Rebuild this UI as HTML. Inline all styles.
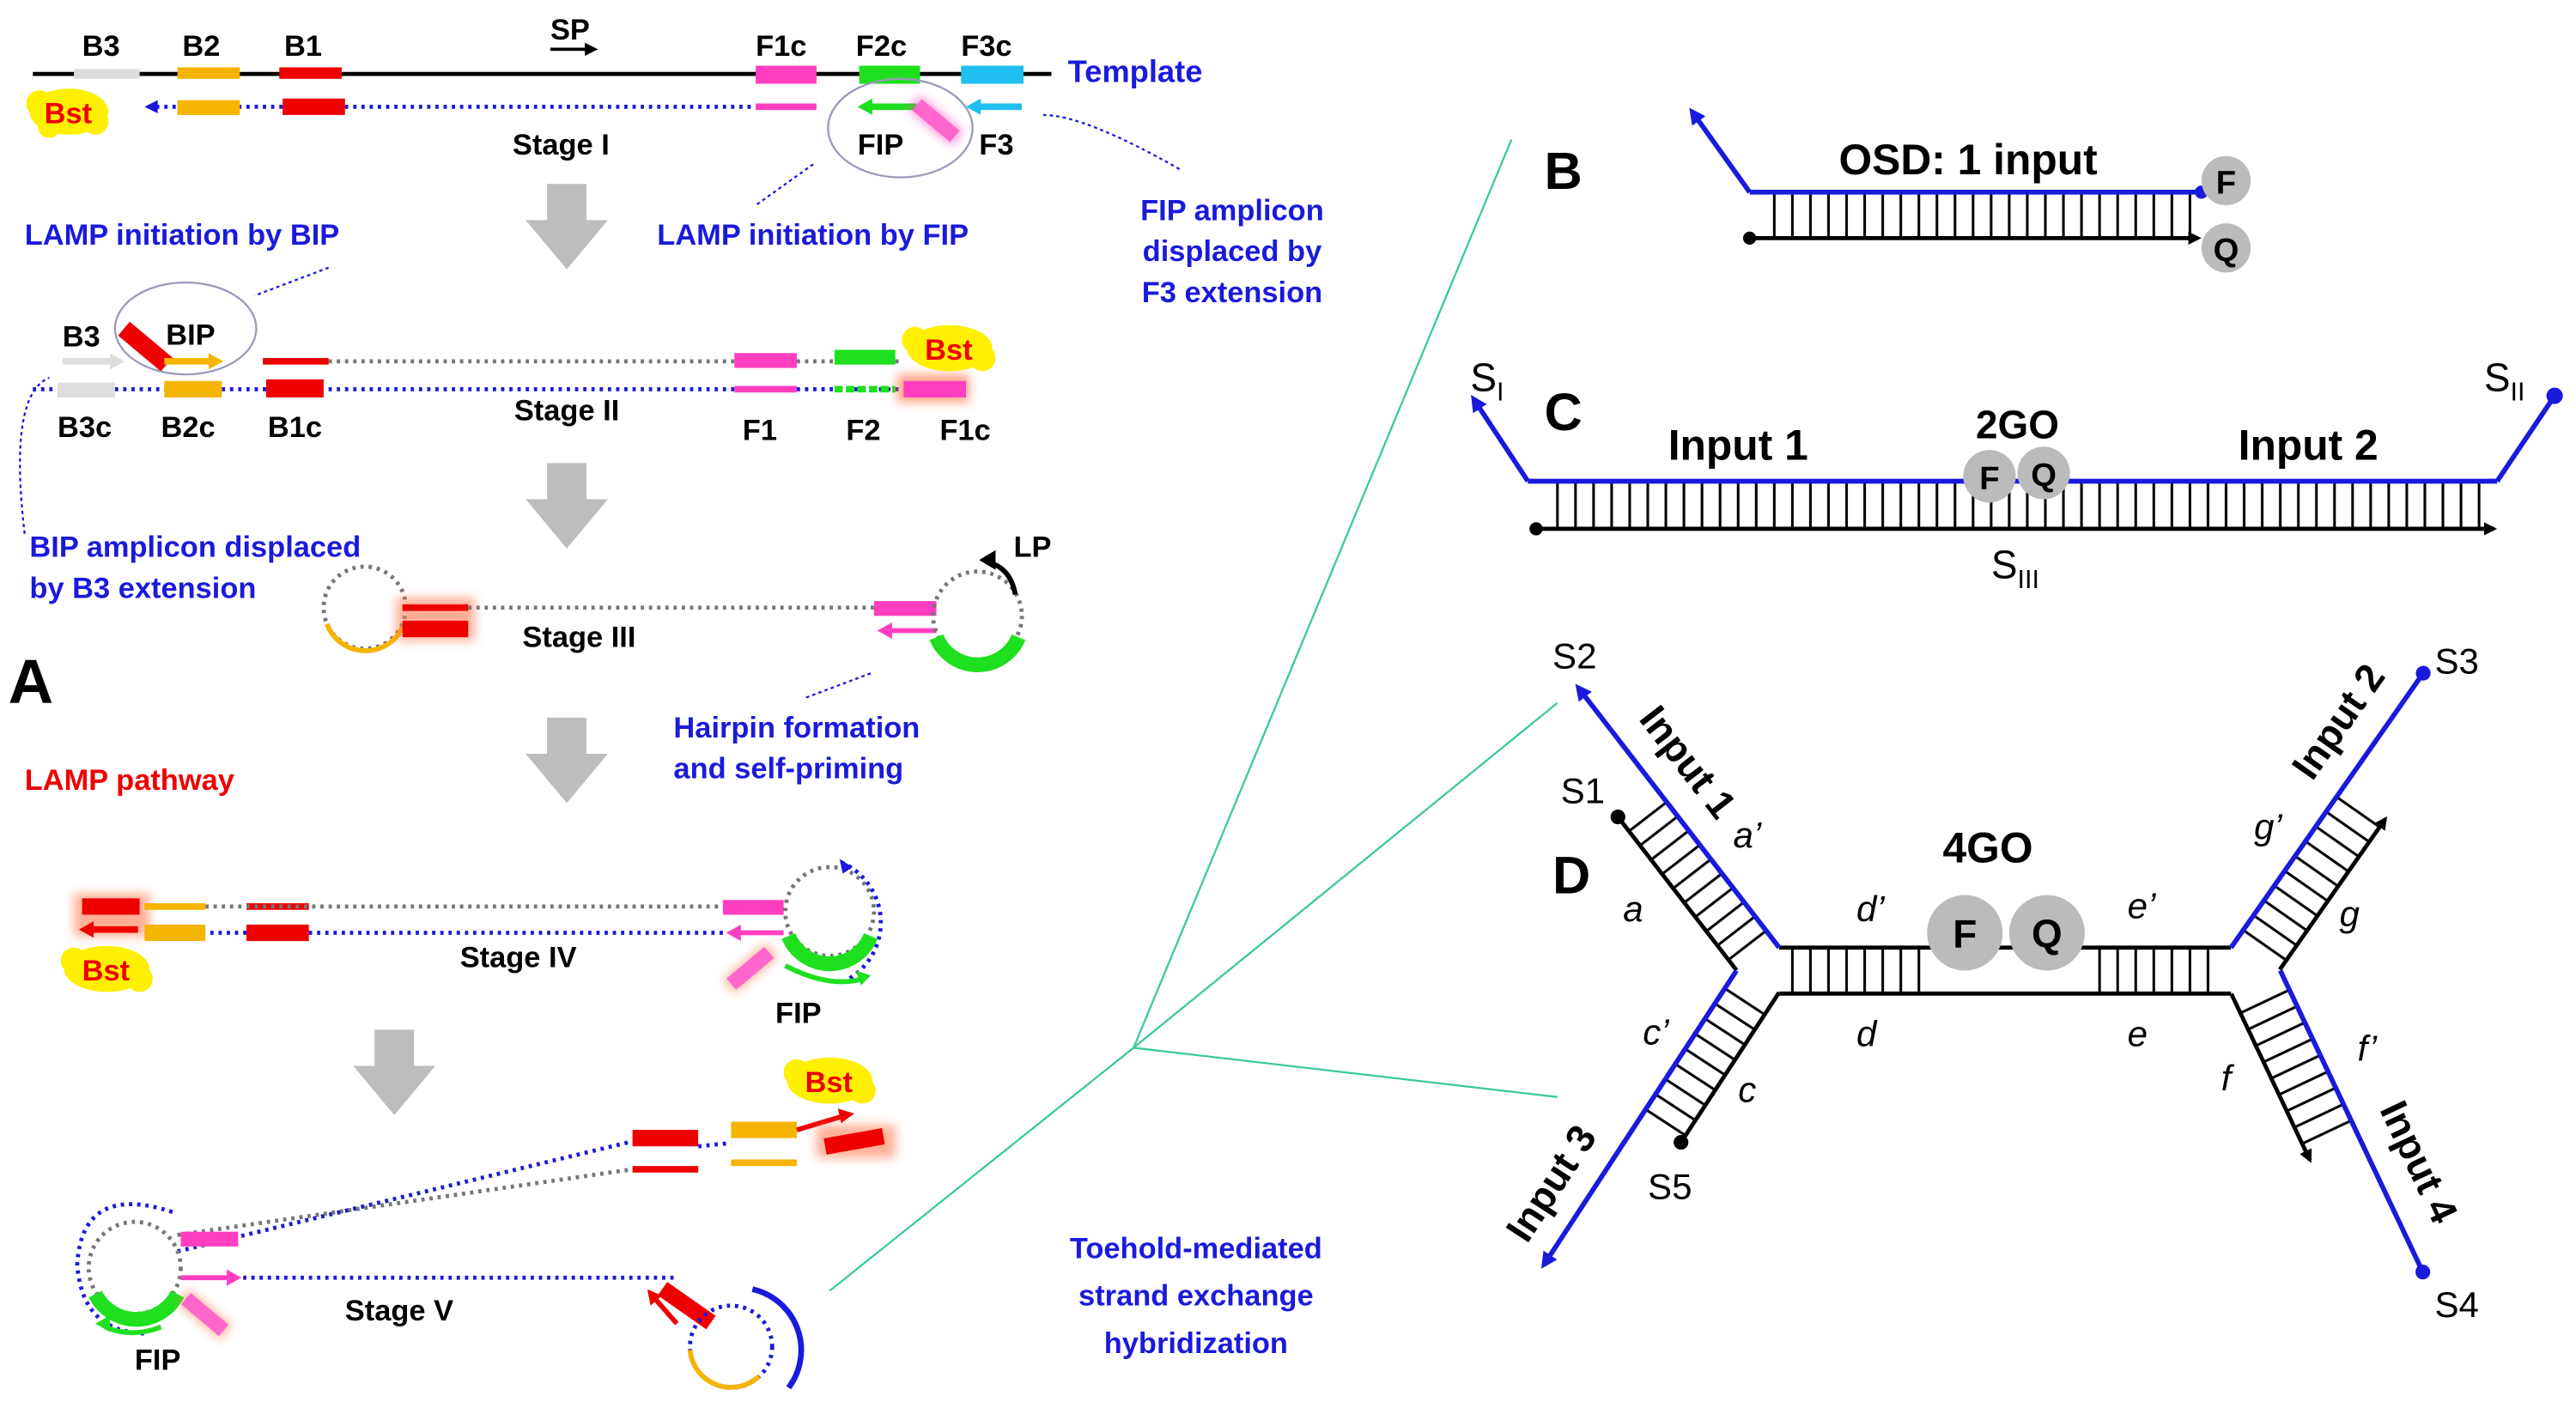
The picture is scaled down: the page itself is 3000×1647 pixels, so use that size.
<!DOCTYPE html>
<html><head><meta charset="utf-8"><style>
html,body{margin:0;padding:0;background:#fff;}
svg{display:block;}
text{font-family:"Liberation Sans",Arial,sans-serif;font-weight:bold;}
.n{font-weight:normal;}
</style></head><body>
<svg width="3000" height="1647" viewBox="0 0 1568 861" preserveAspectRatio="none" xmlns="http://www.w3.org/2000/svg">
<defs>
<pattern id="rung" width="11" height="10" patternUnits="userSpaceOnUse"><line x1="2" y1="0" x2="2" y2="10" stroke="#000" stroke-width="1.6"/></pattern>
<marker id="ab" markerWidth="8" markerHeight="8" refX="6" refY="4" orient="auto" markerUnits="userSpaceOnUse"><path d="M0,0 L8,4 L0,8 z" fill="#000"/></marker>
<marker id="abl" markerWidth="10" markerHeight="10" refX="7" refY="5" orient="auto" markerUnits="userSpaceOnUse"><path d="M0,0 L10,5 L0,10 z" fill="#1a1adb"/></marker>
<filter id="glow" x="-50%" y="-100%" width="200%" height="300%"><feGaussianBlur stdDeviation="3"/></filter>
</defs>
<rect width="1568" height="861" fill="#fff"/>

<!-- ===== Panel A ===== -->
<g font-size="18">
<text x="50" y="34">B3</text><text x="111" y="34">B2</text><text x="173" y="34">B1</text>
<text x="335" y="24">SP</text><line x1="335" y1="30" x2="362" y2="30" stroke="#000" stroke-width="2" marker-end="url(#ab)"/>
<text x="460" y="34">F1c</text><text x="521" y="34">F2c</text><text x="585" y="34">F3c</text>
</g>
<text x="650" y="50" font-size="19" fill="#1a1adb">Template</text>
<line x1="20" y1="45" x2="640" y2="45" stroke="#000" stroke-width="2.5"/>
<rect x="45" y="42" width="40" height="6" fill="#ddd"/>
<rect x="108" y="41" width="38" height="7" fill="#f5b400"/>
<rect x="170" y="41" width="38" height="7" fill="#e00"/>
<rect x="460" y="40" width="37" height="11" fill="#ff3fc0"/>
<rect x="523" y="40" width="37" height="11" fill="#1ee01e"/>
<rect x="585" y="40" width="38" height="11" fill="#1fbfef"/>
<line x1="90" y1="65" x2="460" y2="65" stroke="#1a1adb" stroke-width="2.5" stroke-dasharray="2,3"/>
<path d="M88,65 l8,-4 v8z" fill="#1a1adb"/>
<rect x="108" y="61" width="38" height="9" fill="#f5b400"/>
<rect x="172" y="60" width="38" height="10" fill="#e00"/>
<rect x="460" y="63" width="37" height="4" fill="#ff3fc0"/>
<line x1="558" y1="65" x2="528" y2="65" stroke="#1ee01e" stroke-width="4"/><path d="M522,65 l9,-5 v10z" fill="#1ee01e"/>
<rect x="553" y="68" width="34" height="11" fill="#ff3fc0" transform="rotate(40 570 73)" filter="url(#glow)" opacity=".6"/>
<rect x="555" y="69" width="30" height="9" fill="#ff66cc" transform="rotate(40 570 73)"/>
<line x1="622" y1="65" x2="594" y2="65" stroke="#1fbfef" stroke-width="4"/><path d="M588,65 l9,-5 v10z" fill="#1fbfef"/>
<ellipse cx="548" cy="78" rx="44" ry="30" fill="none" stroke="#9a9ab8" stroke-width="1.2"/>
<text x="522" y="94" font-size="18">FIP</text><text x="596" y="94" font-size="18">F3</text>
<text x="312" y="94" font-size="18">Stage I</text>
<ellipse cx="42" cy="68" rx="24" ry="14" fill="#ffef00"/><circle cx="24" cy="63" r="8" fill="#ffef00"/><circle cx="58" cy="74" r="8" fill="#ffef00"/><circle cx="30" cy="77" r="7" fill="#ffef00"/>
<text x="27" y="75" font-size="18" fill="#e00">Bst</text>

<g fill="#bdbdbd">
<path d="M333,112 h24 v22 h13 l-25,30 l-25,-30 h13z"/>
<path d="M333,282 h24 v22 h13 l-25,30 l-25,-30 h13z"/>
<path d="M333,437 h24 v22 h13 l-25,30 l-25,-30 h13z"/>
<path d="M228,627 h24 v22 h13 l-25,30 l-25,-30 h13z"/>
</g>

<g font-size="18" fill="#1a1adb">
<text x="15" y="149">LAMP initiation by BIP</text>
<text x="400" y="149">LAMP initiation by FIP</text>
<text x="750" y="134" text-anchor="middle">FIP amplicon</text>
<text x="750" y="159" text-anchor="middle">displaced by</text>
<text x="750" y="184" text-anchor="middle">F3 extension</text>
<text x="18" y="339">BIP amplicon displaced</text>
<text x="18" y="364">by B3 extension</text>
<text x="410" y="449">Hairpin formation</text>
<text x="410" y="474">and self-priming</text>
<text x="728" y="766" text-anchor="middle">Toehold-mediated</text>
<text x="728" y="795" text-anchor="middle">strand exchange</text>
<text x="728" y="824" text-anchor="middle">hybridization</text>
</g>
<text x="15" y="481" font-size="18" fill="#e00">LAMP pathway</text>
<text x="5" y="428" font-size="38">A</text>
<g stroke="#1a1adb" stroke-width="1.2" stroke-dasharray="2,2" fill="none">
<path d="M718,103 Q660,70 635,70"/><path d="M495,100 L460,125"/><path d="M200,163 L155,180"/>
<path d="M15,325 Q5,240 30,230"/><path d="M530,410 L490,425"/>
</g>

<!-- Stage II -->
<line x1="160" y1="220" x2="550" y2="220" stroke="#777" stroke-width="2.5" stroke-dasharray="2,3"/>
<line x1="20" y1="237" x2="550" y2="237" stroke="#1a1adb" stroke-width="2.5" stroke-dasharray="2,3"/>
<text x="38" y="211" font-size="18">B3</text>
<line x1="38" y1="220" x2="70" y2="220" stroke="#ddd" stroke-width="4"/><path d="M76,220 l-9,-5 v10z" fill="#ddd"/>
<rect x="72" y="205" width="34" height="11" fill="#e00" transform="rotate(40 88 210)"/>
<line x1="100" y1="220" x2="128" y2="220" stroke="#f5b400" stroke-width="4"/><path d="M136,220 l-9,-5 v10z" fill="#f5b400"/>
<text x="101" y="210" font-size="18">BIP</text>
<ellipse cx="113" cy="200" rx="43" ry="28" fill="none" stroke="#9a9ab8" stroke-width="1.2"/>
<rect x="160" y="218" width="40" height="4" fill="#e00"/>
<rect x="447" y="215" width="38" height="9" fill="#ff3fc0"/>
<rect x="508" y="213" width="37" height="9" fill="#1ee01e"/>
<rect x="35" y="233" width="35" height="9" fill="#ddd"/>
<rect x="100" y="232" width="35" height="10" fill="#f5b400"/>
<rect x="162" y="231" width="35" height="11" fill="#e00"/>
<rect x="447" y="235" width="38" height="4" fill="#ff3fc0"/>
<line x1="508" y1="237" x2="545" y2="237" stroke="#1ee01e" stroke-width="4" stroke-dasharray="5,2"/>
<rect x="546" y="228" width="44" height="17" fill="#ff7a50" filter="url(#glow)" opacity=".7"/>
<rect x="550" y="232" width="38" height="10" fill="#ff3fc0"/>
<ellipse cx="578" cy="212" rx="26" ry="14" fill="#ffef00"/><circle cx="557" cy="207" r="8" fill="#ffef00"/><circle cx="598" cy="218" r="8" fill="#ffef00"/>
<text x="563" y="219" font-size="18" fill="#e00">Bst</text>
<g font-size="18"><text x="35" y="266">B3c</text><text x="98" y="266">B2c</text><text x="163" y="266">B1c</text>
<text x="313" y="256">Stage II</text><text x="452" y="268">F1</text><text x="515" y="268">F2</text><text x="572" y="268">F1c</text></g>

<!-- Stage III -->
<circle cx="222" cy="370" r="25" fill="none" stroke="#777" stroke-width="2.5" stroke-dasharray="2,3"/>
<path d="M199,380 A25,25 0 0 0 245,382" fill="none" stroke="#f5b400" stroke-width="3"/>
<rect x="241" y="364" width="48" height="26" fill="#ff7a50" filter="url(#glow)" opacity=".6"/>
<rect x="245" y="368" width="40" height="4" fill="#e00"/>
<rect x="245" y="378" width="40" height="10" fill="#e00"/>
<line x1="285" y1="370" x2="532" y2="370" stroke="#777" stroke-width="2.5" stroke-dasharray="2,3"/>
<rect x="532" y="366" width="38" height="9" fill="#ff3fc0"/>
<line x1="570" y1="384" x2="542" y2="384" stroke="#ff3fc0" stroke-width="3"/><path d="M534,384 l9,-5 v10z" fill="#ff3fc0"/>
<circle cx="595" cy="375" r="27" fill="none" stroke="#777" stroke-width="2.5" stroke-dasharray="2,3"/>
<path d="M570,388 A27,27 0 0 0 620,388" fill="none" stroke="#1ee01e" stroke-width="9"/>
<path d="M618,362 Q615,345 600,342" fill="none" stroke="#000" stroke-width="3"/><path d="M596,341 l10,-6 v12z" fill="#000"/>
<text x="617" y="339" font-size="18">LP</text>
<text x="318" y="394" font-size="18">Stage III</text>

<!-- Stage IV -->
<rect x="45" y="544" width="46" height="26" fill="#ff7a50" filter="url(#glow)" opacity=".6"/>
<rect x="50" y="547" width="35" height="10" fill="#e00"/>
<rect x="88" y="550" width="37" height="4" fill="#f5b400"/>
<rect x="150" y="550" width="38" height="4" fill="#e00"/>
<line x1="125" y1="552" x2="440" y2="552" stroke="#777" stroke-width="2.5" stroke-dasharray="2,3"/>
<line x1="88" y1="568" x2="440" y2="568" stroke="#1a1adb" stroke-width="2.5" stroke-dasharray="2,3"/>
<line x1="84" y1="566" x2="56" y2="566" stroke="#e00" stroke-width="4"/><path d="M48,566 l9,-5 v10z" fill="#e00"/>
<rect x="88" y="563" width="37" height="10" fill="#f5b400"/>
<rect x="150" y="563" width="38" height="10" fill="#e00"/>
<ellipse cx="65" cy="590" rx="26" ry="14" fill="#ffef00"/><circle cx="45" cy="585" r="8" fill="#ffef00"/><circle cx="85" cy="596" r="8" fill="#ffef00"/>
<text x="50" y="597" font-size="18" fill="#e00">Bst</text>
<rect x="440" y="548" width="37" height="9" fill="#ff3fc0"/>
<line x1="477" y1="568" x2="450" y2="568" stroke="#ff3fc0" stroke-width="3"/><path d="M442,568 l9,-5 v10z" fill="#ff3fc0"/>
<circle cx="505" cy="555" r="27" fill="none" stroke="#777" stroke-width="2.5" stroke-dasharray="2,3"/>
<path d="M512,525 A40,40 0 0 1 515,597" fill="none" stroke="#1a1adb" stroke-width="2.5" stroke-dasharray="2,3"/>
<path d="M519,528 l-8,-5 l2,9z" fill="#1a1adb"/>
<path d="M480,570 A27,27 0 0 0 530,570" fill="none" stroke="#1ee01e" stroke-width="9"/>
<path d="M478,588 Q505,602 525,596" fill="none" stroke="#1ee01e" stroke-width="3"/><path d="M530,594 l-9,-3 l3,9z" fill="#1ee01e"/>
<rect x="440" y="584" width="34" height="11" fill="#ff7a50" filter="url(#glow)" opacity=".6" transform="rotate(-40 457 590)"/>
<rect x="442" y="585" width="30" height="9" fill="#ff66cc" transform="rotate(-40 457 590)"/>
<text x="472" y="623" font-size="18">FIP</text>
<text x="280" y="589" font-size="18">Stage IV</text>

<!-- Stage V -->
<line x1="108" y1="762" x2="385" y2="695" stroke="#1a1adb" stroke-width="2.5" stroke-dasharray="2,3"/>
<line x1="108" y1="752" x2="385" y2="712" stroke="#777" stroke-width="2.5" stroke-dasharray="2,3"/>
<rect x="385" y="688" width="40" height="10" fill="#e00"/>
<rect x="385" y="710" width="40" height="4" fill="#e00"/>
<line x1="425" y1="698" x2="445" y2="696" stroke="#1a1adb" stroke-width="2.5" stroke-dasharray="2,3"/>
<rect x="445" y="683" width="40" height="10" fill="#f5b400"/>
<rect x="445" y="706" width="40" height="4" fill="#f5b400"/>
<line x1="485" y1="688" x2="512" y2="680" stroke="#e00" stroke-width="3"/><path d="M520,678 l-10,-3 l2,9z" fill="#e00"/>
<rect x="497" y="685" width="48" height="20" fill="#ff7a50" filter="url(#glow)" opacity=".6"/>
<rect x="502" y="690" width="36" height="10" fill="#e00" transform="rotate(-10 520 695)"/>
<ellipse cx="505" cy="658" rx="26" ry="14" fill="#ffef00"/><circle cx="485" cy="653" r="8" fill="#ffef00"/><circle cx="525" cy="664" r="8" fill="#ffef00"/>
<text x="490" y="665" font-size="18" fill="#e00">Bst</text>
<circle cx="82" cy="772" r="28" fill="none" stroke="#777" stroke-width="2.5" stroke-dasharray="2,3"/>
<path d="M105,738 Q50,720 47,770 Q50,812 90,812" fill="none" stroke="#1a1adb" stroke-width="2.5" stroke-dasharray="2,3"/>
<path d="M58,788 A28,28 0 0 0 108,788" fill="none" stroke="#1ee01e" stroke-width="9"/>
<path d="M98,808 Q80,815 64,808" fill="none" stroke="#1ee01e" stroke-width="3"/><path d="M58,806 l9,-5 l0,10z" fill="#1ee01e"/>
<rect x="110" y="750" width="35" height="9" fill="#ff3fc0"/>
<line x1="110" y1="778" x2="140" y2="778" stroke="#ff3fc0" stroke-width="3"/><path d="M147,778 l-9,-5 v10z" fill="#ff3fc0"/>
<line x1="148" y1="778" x2="410" y2="778" stroke="#1a1adb" stroke-width="2.5" stroke-dasharray="2,3"/>
<rect x="108" y="795" width="34" height="11" fill="#ff7a50" filter="url(#glow)" opacity=".6" transform="rotate(40 125 800)"/>
<rect x="110" y="796" width="30" height="9" fill="#ff66cc" transform="rotate(40 125 800)"/>
<text x="82" y="834" font-size="18">FIP</text>
<text x="210" y="804" font-size="18">Stage V</text>
<rect x="400" y="790" width="36" height="10" fill="#e00" transform="rotate(35 418 795)"/>
<line x1="412" y1="806" x2="398" y2="790" stroke="#e00" stroke-width="3"/><path d="M394,785 l2,10 l7,-6z" fill="#e00"/>
<circle cx="445" cy="820" r="25" fill="none" stroke="#1a1adb" stroke-width="2.5" stroke-dasharray="2,3"/>
<path d="M420,822 A25,25 0 0 0 462,838" fill="none" stroke="#f5b400" stroke-width="3"/>
<path d="M458,785 A38,38 0 0 1 480,845" fill="none" stroke="#1a1adb" stroke-width="3.5"/>

<g stroke="#3cc8a0" stroke-width="1.2" fill="none">
<line x1="690" y1="638" x2="920" y2="85"/>
<line x1="690" y1="638" x2="948" y2="428"/>
<line x1="690" y1="638" x2="948" y2="668"/>
<line x1="690" y1="638" x2="505" y2="786"/>
</g>

<!-- ===== Panel B ===== -->
<text x="940" y="115" font-size="32">B</text>
<rect x="1072" y="117" width="265" height="28" fill="url(#rung)"/>
<path d="M1065,117 L1030,68" stroke="#1a1adb" stroke-width="3" fill="none" marker-end="url(#abl)"/>
<line x1="1065" y1="117" x2="1340" y2="117" stroke="#1a1adb" stroke-width="3"/>
<circle cx="1340" cy="117" r="4" fill="#1a1adb"/>
<line x1="1065" y1="145" x2="1338" y2="145" stroke="#000" stroke-width="2.5" marker-end="url(#ab)"/>
<circle cx="1065" cy="145" r="4" fill="#000"/>
<text x="1198" y="106" font-size="26" text-anchor="middle">OSD: 1 input</text>
<circle cx="1355" cy="110" r="15" fill="#bbb"/><text x="1355" y="118" font-size="20" text-anchor="middle">F</text>
<circle cx="1355" cy="151" r="15" fill="#bbb"/><text x="1355" y="159" font-size="20" text-anchor="middle">Q</text>

<!-- ===== Panel C ===== -->
<text x="940" y="262" font-size="32">C</text>
<rect x="940" y="293" width="575" height="29" fill="url(#rung)"/>
<path d="M930,293 L897,243" stroke="#1a1adb" stroke-width="3" fill="none" marker-end="url(#abl)"/>
<line x1="930" y1="293" x2="1520" y2="293" stroke="#1a1adb" stroke-width="3"/>
<line x1="1520" y1="293" x2="1555" y2="241" stroke="#1a1adb" stroke-width="3"/><circle cx="1555" cy="241" r="5" fill="#1a1adb"/>
<line x1="935" y1="322" x2="1518" y2="322" stroke="#000" stroke-width="2.5" marker-end="url(#ab)"/><circle cx="935" cy="322" r="4" fill="#000"/>
<text x="895" y="238" font-size="24" class="n">S<tspan font-size="16" dy="6">I</tspan></text>
<text x="1512" y="238" font-size="24" class="n">S<tspan font-size="16" dy="6">II</tspan></text>
<text x="1212" y="352" font-size="24" class="n">S<tspan font-size="16" dy="6">III</tspan></text>
<text x="1058" y="280" font-size="26" text-anchor="middle">Input 1</text>
<text x="1228" y="267" font-size="24" text-anchor="middle">2GO</text>
<text x="1405" y="280" font-size="26" text-anchor="middle">Input 2</text>
<circle cx="1211" cy="290" r="16" fill="#bbb"/><text x="1211" y="298" font-size="20" text-anchor="middle">F</text>
<circle cx="1244" cy="288" r="16" fill="#bbb"/><text x="1244" y="296" font-size="20" text-anchor="middle">Q</text>

<!-- ===== Panel D ===== -->
<text x="945" y="544" font-size="32">D</text>
<rect x="1088" y="577" width="82" height="28" fill="url(#rung)"/>
<rect x="1270" y="577" width="82" height="28" fill="url(#rung)"/>
<line x1="1083" y1="577" x2="1358" y2="577" stroke="#000" stroke-width="2.5"/>
<line x1="1083" y1="605" x2="1358" y2="605" stroke="#000" stroke-width="2.5"/>
<circle cx="1196" cy="568" r="23" fill="#bbb"/><text x="1196" y="577" font-size="24" text-anchor="middle">F</text>
<circle cx="1246" cy="568" r="23" fill="#bbb"/><text x="1246" y="577" font-size="24" text-anchor="middle">Q</text>
<text x="1210" y="525" font-size="26" text-anchor="middle">4GO</text>
<g font-size="22" font-style="italic">
<text x="1130" y="561" class="n">d’</text><text x="1130" y="637" class="n">d</text>
<text x="1295" y="559" class="n">e’</text><text x="1295" y="637" class="n">e</text>
<text x="1055" y="516" class="n">a’</text><text x="988" y="561" class="n">a</text>
<text x="1000" y="636" class="n">c’</text><text x="1058" y="671" class="n">c</text>
<text x="1372" y="511" class="n">g’</text><text x="1424" y="564" class="n">g</text>
<text x="1435" y="646" class="n">f’</text><text x="1352" y="664" class="n">f</text>
</g>
<g transform="translate(1083,577) rotate(-127.7)">
<rect x="10" y="-29" width="110" height="29" fill="url(#rung)"/>
<line x1="0" y1="0" x2="200" y2="0" stroke="#1a1adb" stroke-width="3" marker-end="url(#abl)"/>
<line x1="5" y1="-29" x2="123" y2="-29" stroke="#000" stroke-width="2.5"/><circle cx="123" cy="-29" r="4.5" fill="#000"/>
</g>
<g transform="translate(1358,577) rotate(-55)">
<rect x="10" y="0" width="104" height="32" fill="url(#rung)"/>
<line x1="0" y1="0" x2="204" y2="0" stroke="#1a1adb" stroke-width="3"/><circle cx="204" cy="0" r="4.5" fill="#1a1adb"/>
<line x1="6" y1="32" x2="118" y2="32" stroke="#000" stroke-width="2.5" marker-end="url(#ab)"/>
</g>
<g transform="translate(1057,591) rotate(123.2)">
<rect x="6" y="-29" width="100" height="29" fill="url(#rung)"/>
<line x1="0" y1="0" x2="214" y2="0" stroke="#1a1adb" stroke-width="3" marker-end="url(#abl)"/>
<line x1="-3" y1="-29" x2="106" y2="-29" stroke="#000" stroke-width="2.5"/><circle cx="106" cy="-29" r="4.5" fill="#000"/>
</g>
<g transform="translate(1388,591) rotate(64.7)">
<rect x="6" y="0" width="98" height="33" fill="url(#rung)"/>
<line x1="0" y1="0" x2="203" y2="0" stroke="#1a1adb" stroke-width="3"/><circle cx="203" cy="0" r="4.5" fill="#1a1adb"/>
<line x1="0" y1="33" x2="112" y2="33" stroke="#000" stroke-width="2.5" marker-end="url(#ab)"/>
</g>
<g font-size="22">
<text x="945" y="407" class="n">S2</text>
<text x="950" y="489" class="n">S1</text>
<text x="1003" y="730" class="n">S5</text>
<text x="1482" y="410" class="n">S3</text>
<text x="1482" y="802" class="n">S4</text>
</g>
<g font-size="24">
<text transform="translate(1021,469) rotate(52.3)" text-anchor="middle">Input 1</text>
<text transform="translate(1430,444) rotate(-55)" text-anchor="middle">Input 2</text>
<text transform="translate(951,725) rotate(-56.8)" text-anchor="middle">Input 3</text>
<text transform="translate(1465,711) rotate(64.7)" text-anchor="middle">Input 4</text>
</g>
</svg>
</body></html>
